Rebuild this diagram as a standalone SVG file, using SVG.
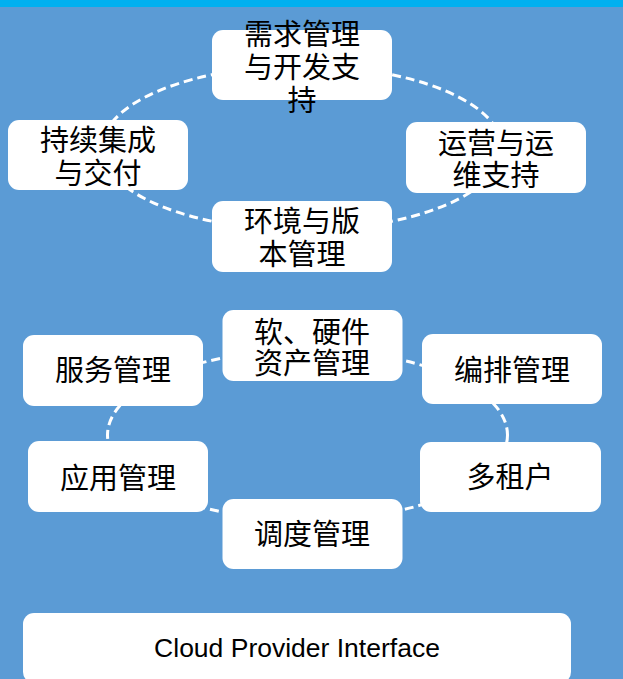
<svg xmlns="http://www.w3.org/2000/svg" width="623" height="679" viewBox="0 0 623 679">
  <style>
    .box { fill: #FFFFFF; }
    .cn { font-family: "Noto Sans CJK SC", "Noto Sans", sans-serif; font-size: 29px; fill: #000000; text-anchor: middle; }
    .en { font-family: "Liberation Sans", Arial, sans-serif; font-size: 26.5px; fill: #000000; text-anchor: middle; }
    .conn { fill: none; stroke: #FFFFFF; stroke-width: 3; stroke-dasharray: 9 5; }
  </style>
  <rect x="0" y="0" width="623" height="679" fill="#5B9BD5"/>
  <rect x="0" y="0" width="623" height="7" fill="#00B0F0"/>

  <g id="connectors">
    <ellipse class="conn" cx="302" cy="148" rx="200" ry="82"/>
    <ellipse class="conn" cx="307.5" cy="435" rx="200" ry="85"/>
  </g>

  <g id="node-req">
    <rect class="box" x="212" y="30" width="180" height="70" rx="11"/>
    <text class="cn" x="302" y="45">需求管理</text>
    <text class="cn" x="302" y="78">与开发支</text>
    <text class="cn" x="302" y="111">持</text>
  </g>
  <g id="node-ci">
    <rect class="box" x="8" y="120" width="180" height="70" rx="11"/>
    <text class="cn" x="98" y="151">持续集成</text>
    <text class="cn" x="98" y="184">与交付</text>
  </g>
  <g id="node-ops">
    <rect class="box" x="406" y="122" width="180" height="71" rx="11"/>
    <text class="cn" x="496" y="154">运营与运</text>
    <text class="cn" x="496" y="186">维支持</text>
  </g>
  <g id="node-env">
    <rect class="box" x="212" y="201" width="180" height="71" rx="11"/>
    <text class="cn" x="302" y="232">环境与版</text>
    <text class="cn" x="302" y="265">本管理</text>
  </g>

  <g id="node-asset">
    <rect class="box" x="222.5" y="310" width="180" height="71" rx="11"/>
    <text class="cn" x="312" y="343">软、硬件</text>
    <text class="cn" x="312" y="374">资产管理</text>
  </g>
  <g id="node-service">
    <rect class="box" x="23" y="335" width="180" height="71" rx="11"/>
    <text class="cn" x="113" y="381">服务管理</text>
  </g>
  <g id="node-orch">
    <rect class="box" x="422" y="334" width="180" height="70" rx="11"/>
    <text class="cn" x="512" y="381">编排管理</text>
  </g>
  <g id="node-app">
    <rect class="box" x="28" y="441" width="180" height="71" rx="11"/>
    <text class="cn" x="118" y="489">应用管理</text>
  </g>
  <g id="node-tenant">
    <rect class="box" x="420" y="442" width="181" height="70" rx="11"/>
    <text class="cn" x="510" y="488">多租户</text>
  </g>
  <g id="node-sched">
    <rect class="box" x="222.5" y="499" width="180" height="70" rx="11"/>
    <text class="cn" x="312" y="545">调度管理</text>
  </g>

  <g id="node-cpi">
    <rect class="box" x="23" y="613" width="548" height="70" rx="11"/>
    <text class="en" x="297" y="657">Cloud Provider Interface</text>
  </g>
</svg>
